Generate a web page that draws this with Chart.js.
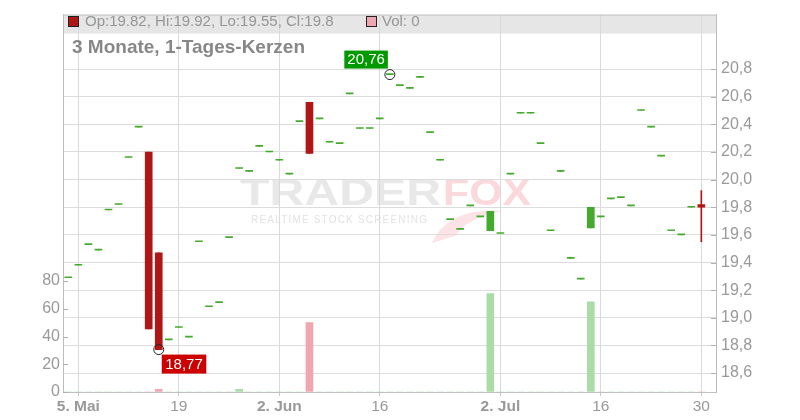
<!DOCTYPE html>
<html><head><meta charset="utf-8">
<script src="https://cdn.jsdelivr.net/npm/chart.js@4"></script>
<style>html,body{margin:0;padding:0;background:#fff;}#wrap{width:800px;height:420px;}</style>
</head><body><div id="wrap"><canvas id="c" width="800" height="420"></canvas></div>
<script>
// Daily candles (trading days; first one is the day before "5. Mai")
const opens  = [19.29,19.38,19.53,19.49,19.78,19.82,20.16,20.38,20.20,19.47,18.84,18.93,18.86,19.55,19.08,19.11,19.58,20.08,20.06,20.24,20.20,20.14,20.04,20.42,20.56,20.44,20.27,20.26,20.62,20.37,20.37,20.44,20.76,20.68,20.66,20.74,20.34,20.14,19.71,19.64,19.81,19.73,19.63,19.61,20.04,20.48,20.48,20.26,19.63,20.06,19.43,19.28,19.65,19.73,19.86,19.87,19.81,20.50,20.38,20.17,19.63,19.60,19.80,19.82];
const closes = [19.29,19.38,19.53,19.49,19.78,19.82,20.16,20.38,18.92,18.77,18.84,18.93,18.86,19.55,19.08,19.11,19.58,20.08,20.06,20.24,20.20,20.14,20.04,20.42,20.19,20.44,20.27,20.26,20.62,20.37,20.37,20.44,20.76,20.68,20.66,20.74,20.34,20.14,19.71,19.64,19.81,19.73,19.77,19.61,20.04,20.48,20.48,20.26,19.63,20.06,19.43,19.28,19.80,19.73,19.86,19.87,19.81,20.50,20.38,20.17,19.63,19.60,19.80,19.80];
const highs  = [19.29,19.38,19.53,19.49,19.78,19.82,20.16,20.38,20.20,19.47,18.84,18.93,18.86,19.55,19.08,19.11,19.58,20.08,20.06,20.24,20.20,20.14,20.04,20.42,20.56,20.44,20.27,20.26,20.62,20.37,20.37,20.44,20.76,20.68,20.66,20.74,20.34,20.14,19.71,19.64,19.81,19.73,19.77,19.61,20.04,20.48,20.48,20.26,19.63,20.06,19.43,19.28,19.80,19.73,19.86,19.87,19.81,20.50,20.38,20.17,19.63,19.60,19.80,19.92];
const lows   = [19.29,19.38,19.53,19.49,19.78,19.82,20.16,20.38,18.92,18.77,18.84,18.93,18.86,19.55,19.08,19.11,19.58,20.08,20.06,20.24,20.20,20.14,20.04,20.42,20.19,20.44,20.27,20.26,20.62,20.37,20.37,20.44,20.76,20.68,20.66,20.74,20.34,20.14,19.71,19.64,19.81,19.73,19.63,19.61,20.04,20.48,20.48,20.26,19.63,20.06,19.43,19.28,19.65,19.73,19.86,19.87,19.81,20.50,20.38,20.17,19.63,19.60,19.80,19.55];
const volumes= [0,0,0,0,0,0,0,0,0,2,0,0,0,0,0,0,0,2,0,0,0,0,0,0,50,0,0,0,0,0,0,0,0,0,0,0,0,0,0,0,0,0,71,0,0,0,0,0,0,0,0,0,65,0,0,0,0,0,0,0,0,0,0,0];
const tickDays   = [0,10,20,30,42,52,62];
const tickLabels = ['5. Mai','19','2. Jun','16','2. Jul','16','30'];
const priceTicks = [18.6,18.8,19.0,19.2,19.4,19.6,19.8,20.0,20.2,20.4,20.6,20.8];
const volTicks   = [0,20,40,60,80];
const chartTitle = '3 Monate, 1-Tages-Kerzen';

const RED='#b01616', GREEN='#44aa2e', VRED='#f0a6b0', VGREEN='#a9dca6';
const dayIndex = opens.map((_, i) => i - 1);
const last = opens.length - 1;
const up = i => closes[i] >= opens[i];
const cColors = opens.map((_, i) => up(i) ? GREEN : RED);
const vColors = opens.map((_, i) => up(i) ? VGREEN : VRED);
const fmt = v => v.toFixed(2).replace('.', ',');
const FONT = '"Liberation Sans", Arial, sans-serif';

const deco = {
  id: 'deco',
  beforeDraw(chart) {
    const {ctx, chartArea: a} = chart;
    ctx.save();
    ctx.fillStyle = '#e6e6e6';
    ctx.fillRect(a.left, a.top, a.right - a.left, 19);
    // watermark
    ctx.font = 'bold 37px ' + FONT;
    ctx.textBaseline = 'alphabetic';
    let w = ctx.measureText('TRADER').width;
    ctx.save(); ctx.translate(240, 205); ctx.scale(201 / w, 1);
    ctx.fillStyle = '#e8e8e8'; ctx.fillText('TRADER', 0, 0); ctx.restore();
    w = ctx.measureText('FOX').width;
    ctx.save(); ctx.translate(443, 205); ctx.scale(88 / w, 1);
    ctx.fillStyle = '#fbd8dc'; ctx.fillText('FOX', 0, 0); ctx.restore();
    ctx.fillStyle = '#fde3e6';
    ctx.beginPath(); ctx.moveTo(432, 243);
    ctx.quadraticCurveTo(448, 207, 503, 211);
    ctx.quadraticCurveTo(468, 217, 455, 236);
    ctx.closePath(); ctx.fill();
    ctx.font = '10px ' + FONT;
    const tag = 'REALTIME STOCK SCREENING';
    const w0 = ctx.measureText(tag).width;
    ctx.letterSpacing = ((176 - w0) / (tag.length - 1)).toFixed(2) + 'px';
    ctx.fillStyle = '#e2e2e2';
    ctx.fillText(tag, 251, 223);
    ctx.restore();
  },
  afterDraw(chart) {
    const {ctx, chartArea: a, scales} = chart;
    const x = scales.x, yP = scales.yP, yV = scales.yV;
    ctx.save();
    // top border
    ctx.strokeStyle = '#c4c4c4'; ctx.lineWidth = 1;
    ctx.beginPath(); ctx.moveTo(a.left, a.top + 0.5); ctx.lineTo(a.right, a.top + 0.5); ctx.stroke();
    // inward tick marks
    ctx.strokeStyle = '#b0b0b0';
    priceTicks.forEach(v => { const y = Math.round(yP.getPixelForValue(v)) + 0.5;
      ctx.beginPath(); ctx.moveTo(a.right - 5, y); ctx.lineTo(a.right, y); ctx.stroke(); });
    volTicks.forEach(v => { const y = Math.round(yV.getPixelForValue(v)) + 0.5;
      ctx.beginPath(); ctx.moveTo(a.left, y); ctx.lineTo(a.left + 5, y); ctx.stroke(); });
    // legend band texts
    ctx.font = '15px ' + FONT; ctx.textBaseline = 'middle';
    ctx.fillStyle = cColors[last]; ctx.fillRect(68.5, 16.5, 10, 10);
    ctx.strokeStyle = '#222'; ctx.strokeRect(68.5, 16.5, 10, 10);
    ctx.fillStyle = '#969696';
    ctx.fillText('Op:' + +opens[last].toFixed(2) + ', Hi:' + +highs[last].toFixed(2) + ', Lo:' + +lows[last].toFixed(2) + ', Cl:' + +closes[last].toFixed(2), 85, 21.5);
    ctx.fillStyle = vColors[last]; ctx.fillRect(366.5, 16.5, 10, 10);
    ctx.strokeRect(366.5, 16.5, 10, 10);
    ctx.fillStyle = '#969696';
    ctx.fillText('Vol: ' + volumes[last], 382, 21.5);
    // title
    ctx.font = 'bold 19px ' + FONT; ctx.textBaseline = 'alphabetic';
    ctx.fillStyle = '#878787';
    ctx.fillText(chartTitle, 72, 53);
    // high / low markers
    let hi = 0, lo = 0;
    highs.forEach((v, i) => { if (v > highs[hi]) hi = i; });
    lows.forEach((v, i) => { if (v < lows[lo]) lo = i; });
    ctx.font = '15px ' + FONT; ctx.textBaseline = 'middle'; ctx.textAlign = 'center';
    const hx = x.getPixelForValue(dayIndex[hi]), hy = yP.getPixelForValue(highs[hi]);
    let t = fmt(highs[hi]), tw = ctx.measureText(t).width + 6;
    ctx.fillStyle = '#009a00'; ctx.fillRect(hx - 2 - tw, hy - 24, tw, 18);
    ctx.fillStyle = '#fff'; ctx.fillText(t, hx - 2 - tw / 2, hy - 14.5);
    ctx.strokeStyle = '#222'; ctx.beginPath(); ctx.arc(hx, hy, 5, 0, Math.PI * 2); ctx.stroke();
    const lx = x.getPixelForValue(dayIndex[lo]), ly = yP.getPixelForValue(lows[lo]);
    t = fmt(lows[lo]); tw = ctx.measureText(t).width + 7;
    ctx.fillStyle = '#cc0000'; ctx.fillRect(lx + 3, ly + 5, tw, 19);
    ctx.fillStyle = '#fff'; ctx.fillText(t, lx + 3 + tw / 2, ly + 15);
    ctx.beginPath(); ctx.arc(lx, ly, 5, 0, Math.PI * 2); ctx.stroke();
    ctx.restore();
  }
};

new Chart(document.getElementById('c'), {
  type: 'bar',
  data: { datasets: [
    { label: 'Vol', data: dayIndex.map((d, i) => ({x: d, y: volumes[i]})), yAxisID: 'yV', xAxisID: 'x',
      backgroundColor: vColors, barThickness: 7, grouped: false, order: 3 },
    { label: 'Wick', data: dayIndex.map((d, i) => ({x: d, y: [lows[i], highs[i]]})), yAxisID: 'yP', xAxisID: 'x',
      backgroundColor: cColors, barThickness: 1, grouped: false, order: 2 },
    { label: 'Body', data: dayIndex.map((d, i) => ({x: d, y: [opens[i], closes[i]]})), yAxisID: 'yP', xAxisID: 'x',
      backgroundColor: cColors, barThickness: 7, minBarLength: 1, grouped: false, order: 1 }
  ]},
  options: {
    responsive: false, animation: false, events: [],
    layout: { padding: { top: 11, left: 0, right: 0, bottom: 0 } },
    plugins: { legend: { display: false }, tooltip: { enabled: false }, title: { display: false } },
    scales: {
      x: { type: 'linear', min: -1.53, max: 63.46, offset: false, position: 'bottom',
        afterBuildTicks: s => { s.ticks = tickDays.map(v => ({value: v})); },
        afterFit: s => { s.height = 28; },
        grid: { color: '#d9d9d9', offset: false, tickColor: '#c8c8c8', tickLength: 4 },
        border: { color: '#c0c0c0' },
        ticks: { autoSkip: false, maxRotation: 0, padding: 1, color: '#999',
          callback: v => tickLabels[tickDays.indexOf(v)],
          font: c => ({ family: FONT, size: 15.5, weight: (tickLabels[c.index] || '').includes('.') ? 'bold' : 'normal' }) } },
      yP: { type: 'linear', position: 'right', min: 18.463, max: 21.194,
        afterBuildTicks: s => { s.ticks = priceTicks.map(v => ({value: v})); },
        afterFit: s => { s.width = 84; },
        grid: { color: '#dcdcdc', drawTicks: false },
        border: { color: '#bdbdbd' },
        ticks: { padding: 5, color: '#999', font: { family: FONT, size: 16 },
          callback: v => v.toFixed(1).replace('.', ',') } },
      yV: { type: 'linear', position: 'left', min: 0, max: 272,
        afterBuildTicks: s => { s.ticks = volTicks.map(v => ({value: v})); },
        afterFit: s => { s.width = 63; },
        grid: { drawOnChartArea: false, drawTicks: false },
        border: { color: '#bdbdbd' },
        ticks: { padding: 3, color: '#999', font: { family: FONT, size: 16 } } }
    }
  },
  plugins: [deco]
});
</script>
</body></html>
